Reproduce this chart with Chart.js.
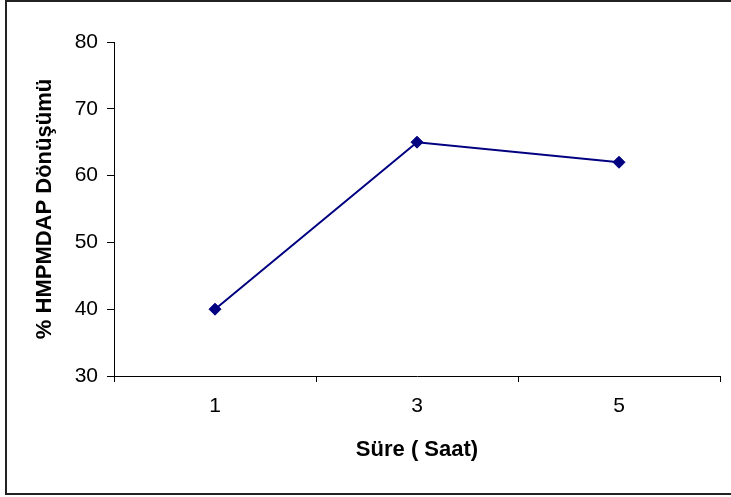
<!DOCTYPE html>
<html>
<head>
<meta charset="utf-8">
<script src="https://cdn.jsdelivr.net/npm/chart.js@4"></script>
<style>
  html, body { margin: 0; padding: 0; background: #fff; }
  #frame {
    position: absolute; left: 5px; top: 0px; width: 740px; height: 491px;
    border: 2px solid #222; border-right: none;
  }
  #wrap { position: absolute; left: 0; top: 0; width: 731px; height: 497px; }
</style>
</head>
<body>
<div id="frame"></div>
<div id="wrap"><canvas id="line_graph"></canvas></div>
<script>
const hours = ['1', '3', '5'];
const conversion = [40, 65, 62];
const yTicks = [30, 40, 50, 60, 70, 80];

const ctx = document.getElementById('line_graph').getContext('2d');
const myChart = new Chart(ctx, {
  type: 'line',
  data: {
    labels: hours,
    datasets: [{
        label: '% HMPMDAP Dönüşümü',
        data: conversion,
        fill: false,
        borderColor: '#000080',
        backgroundColor: '#000080',
        borderWidth: 2,
        pointStyle: 'rectRot',
        pointRadius: 6,
        pointBorderWidth: 1,
        tension: 0
      }
    ]
  },
  options: {
    responsive: true,
    maintainAspectRatio: false,
    animation: false,
    layout: { padding: { left: 0, top: 42, right: 11, bottom: 0 } },
    plugins: { legend: { display: false }, tooltip: { enabled: false } },
    scales: {
      x: {
        offset: true,
        grid: { offset: true, drawOnChartArea: false, drawTicks: true, tickLength: 6, color: '#000' },
        border: { color: '#000', width: 1 },
        ticks: { color: '#000', padding: 12, font: { family: 'Liberation Sans, Arial', size: 21 } },
        title: {
          display: true, text: 'Süre ( Saat)', color: '#000',
          font: { family: 'Liberation Sans, Arial', size: 22, weight: 'bold' },
          padding: { top: 0, bottom: 34 }
        },
        afterFit: function(scale) { scale.height = 121; }
      },
      y: {
        min: 30,
        max: 80,
        afterBuildTicks: function(scale) { scale.ticks = yTicks.map(v => ({ value: v })); },
        grid: { drawOnChartArea: false, drawTicks: true, tickLength: 7, color: '#000' },
        border: { color: '#000', width: 1 },
        ticks: { color: '#000', padding: 9, font: { family: 'Liberation Sans, Arial', size: 21 } },
        title: {
          display: true, text: '% HMPMDAP Dönüşümü', color: '#000',
          font: { family: 'Liberation Sans, Arial', size: 22, weight: 'bold' },
          padding: { top: 32, bottom: 0 }
        },
        afterFit: function(scale) { scale.width = 114; }
      }
    }
  }
});
</script>
</body>
</html>
